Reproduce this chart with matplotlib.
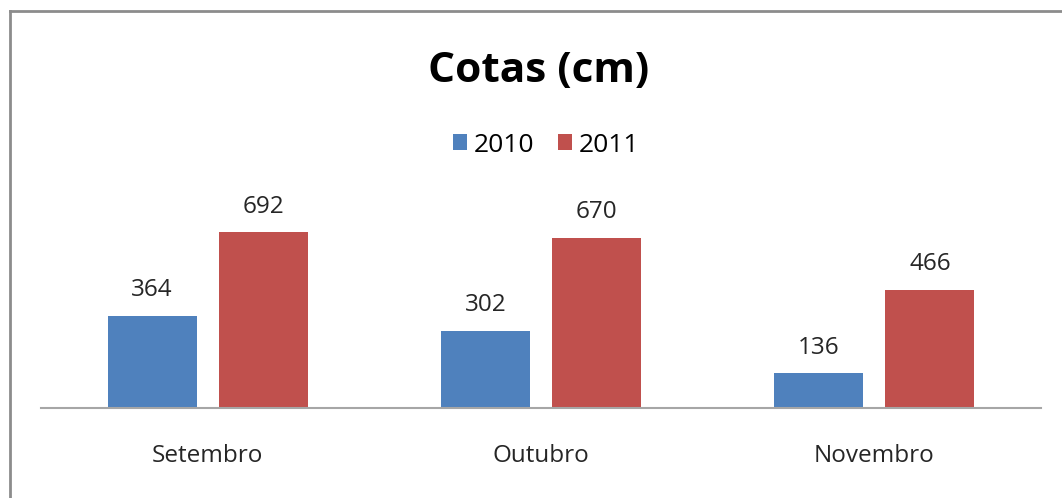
import matplotlib.pyplot as plt
from matplotlib.lines import Line2D
import numpy as np

meses = ['Setembro', 'Outubro', 'Novembro']
anos = ['2010', '2011']
cotas_2010 = [364, 302, 136]
cotas_2011 = [692, 670, 466]

plt.rcParams['font.family'] = ['Open Sans', 'DejaVu Sans']

fig = plt.figure(figsize=(10.62, 4.98), dpi=100)
ax = fig.add_axes([41/1062, 90/498, 1000/1062, 203/498])

x = np.arange(len(meses))
w = 0.267
b1 = ax.bar(x - 0.167, cotas_2010, w, color='#4F81BD', label=anos[0])
b2 = ax.bar(x + 0.167, cotas_2011, w, color='#C0504D', label=anos[1])
ax.bar_label(b1, padding=10, fontsize=17.5, color='#262626')
ax.bar_label(b2, padding=10, fontsize=17.5, color='#262626')

ax.set_xlim(-0.5, 2.5)
ax.set_ylim(0, 800)
ax.set_xticks(x)
ax.set_xticklabels(meses, fontsize=17.5, color='#262626')
ax.tick_params(axis='x', length=0, pad=26)
ax.set_yticks([])
for s in ['top', 'right', 'left']:
    ax.spines[s].set_visible(False)
ax.spines['bottom'].set_color('#A6A6A6')
ax.spines['bottom'].set_linewidth(1.5)

fig.text(539/1062, 1 - 72/498, 'Cotas (cm)', ha='center', va='center',
         fontsize=30.5, fontweight='bold')
fig.legend(handles=[b1, b2], loc='center', bbox_to_anchor=(546/1062, 1 - 145/498),
           ncol=2, frameon=False, fontsize=19, handlelength=0.55, handleheight=0.55,
           handletextpad=0.25, columnspacing=0.9)

# moldura cinza (so topo e esquerda visiveis)
fig.add_artist(Line2D([10/1062, 1], [1 - 11.5/498, 1 - 11.5/498], color='#8C8C8C', lw=2))
fig.add_artist(Line2D([10/1062, 10/1062], [0, 1 - 11.5/498], color='#8C8C8C', lw=2))

fig.savefig('out.png', dpi=100)
